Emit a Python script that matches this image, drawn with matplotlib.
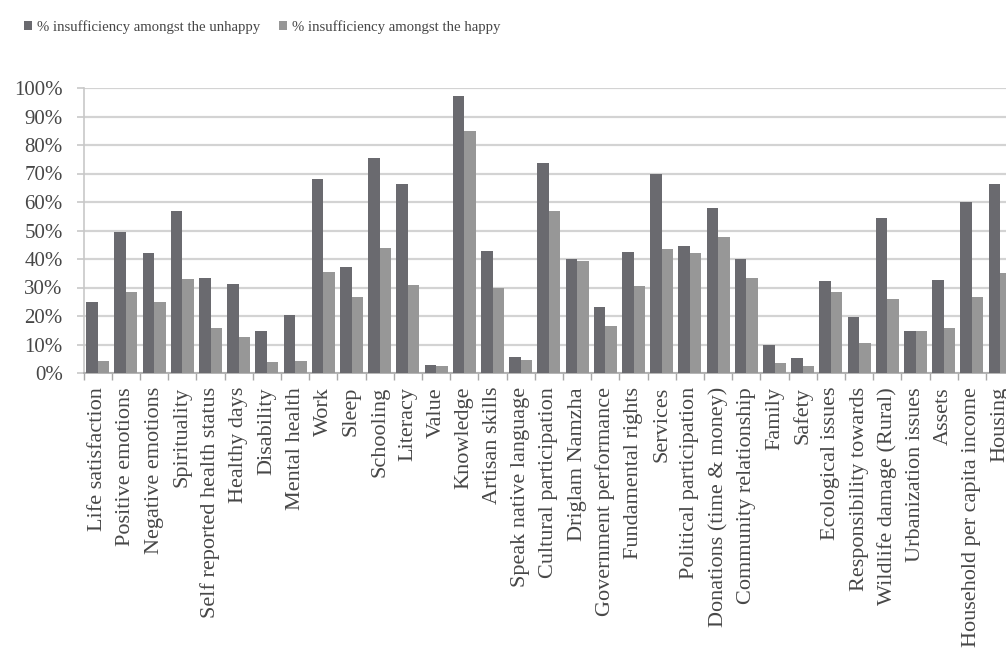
import matplotlib
matplotlib.use("Agg")
import matplotlib.pyplot as plt
import numpy as np
from matplotlib.patches import Patch

categories = [
    "Life satisfaction", "Positive emotions", "Negative emotions", "Spirituality",
    "Self reported health status", "Healthy days", "Disability", "Mental health",
    "Work", "Sleep", "Schooling", "Literacy", "Value", "Knowledge", "Artisan skills",
    "Speak native language", "Cultural participation", "Driglam Namzha",
    "Government performance", "Fundamental rights", "Services",
    "Political participation", "Donations (time & money)", "Community relationship",
    "Family", "Safety", "Ecological issues", "Responsibility towards",
    "Wildlife damage (Rural)", "Urbanization issues", "Assets",
    "Household per capita income", "Housing",
]
unhappy = [25.0, 49.6, 42.0, 57.0, 33.4, 31.2, 14.8, 20.4, 68.0, 37.3, 75.3, 66.3,
           2.8, 97.3, 42.9, 5.5, 73.6, 39.9, 23.0, 42.6, 69.8, 44.6, 58.0, 40.0,
           10.0, 5.1, 32.3, 19.5, 54.3, 14.8, 32.6, 59.9, 66.2]
happy = [4.3, 28.5, 25.0, 33.0, 15.7, 12.7, 4.0, 4.3, 35.3, 26.8, 43.7, 30.9,
         2.5, 85.0, 30.0, 4.4, 57.0, 39.4, 16.6, 30.6, 43.5, 42.0, 47.6, 33.2,
         3.4, 2.5, 28.5, 10.6, 26.0, 14.8, 15.7, 26.8, 35.0]
series_labels = ["% insufficiency amongst the unhappy", "% insufficiency amongst the happy"]
yticks = list(range(0, 101, 10))

dark = "#6a6a6f"
light = "#979797"
txt = "#474747"
serif = ["Liberation Serif", "DejaVu Serif"]

fig = plt.figure(figsize=(10.06, 6.54), dpi=100)
ax = fig.add_axes([83.6 / 1006, 1 - 373 / 654, 930.6 / 1006, 285 / 654])

x = np.arange(len(categories))
w = 0.41
ax.bar(x - w / 2, unhappy, width=w, color=dark, zorder=3)
ax.bar(x + w / 2, happy, width=w, color=light, zorder=3)

ax.set_xlim(-0.5, len(categories) - 0.5)
ax.set_ylim(0, 100)
ax.set_yticks(yticks)
ax.set_yticklabels([f"{v}%" for v in yticks], fontsize=15, family=serif, color=txt)
ax.yaxis.grid(True, color="#d3d3d3", linewidth=1.6, zorder=0)
ax.set_axisbelow(True)
ax.tick_params(axis="y", length=5, color="#c8c8c8", width=1.2, pad=10)

ax.set_xticks(x)
ax.set_xticklabels(categories, rotation=90, fontsize=16, family=serif, color=txt,
                   ha="center", va="top")
ax.tick_params(axis="x", length=0, pad=10)
ax.set_xticks(np.arange(-0.5, len(categories), 1.0), minor=True)
ax.tick_params(axis="x", which="minor", length=5, color="#a8a8a8", width=1.0)

for s in ["top", "right"]:
    ax.spines[s].set_visible(False)
ax.spines["left"].set_color("#c8c8c8")
ax.spines["left"].set_linewidth(1.2)
ax.spines["bottom"].set_color("#a8a8a8")
ax.spines["bottom"].set_linewidth(1.2)

handles = [Patch(facecolor=dark), Patch(facecolor=light)]
fig.legend(handles, series_labels, loc="upper left", bbox_to_anchor=(0.011, 0.99),
           ncol=2, frameon=False, handlelength=0.55, handleheight=0.6,
           handletextpad=0.3, columnspacing=1.3,
           prop={"family": serif, "size": 10.6}, labelcolor=txt)

fig.savefig("out.png", dpi=100)
